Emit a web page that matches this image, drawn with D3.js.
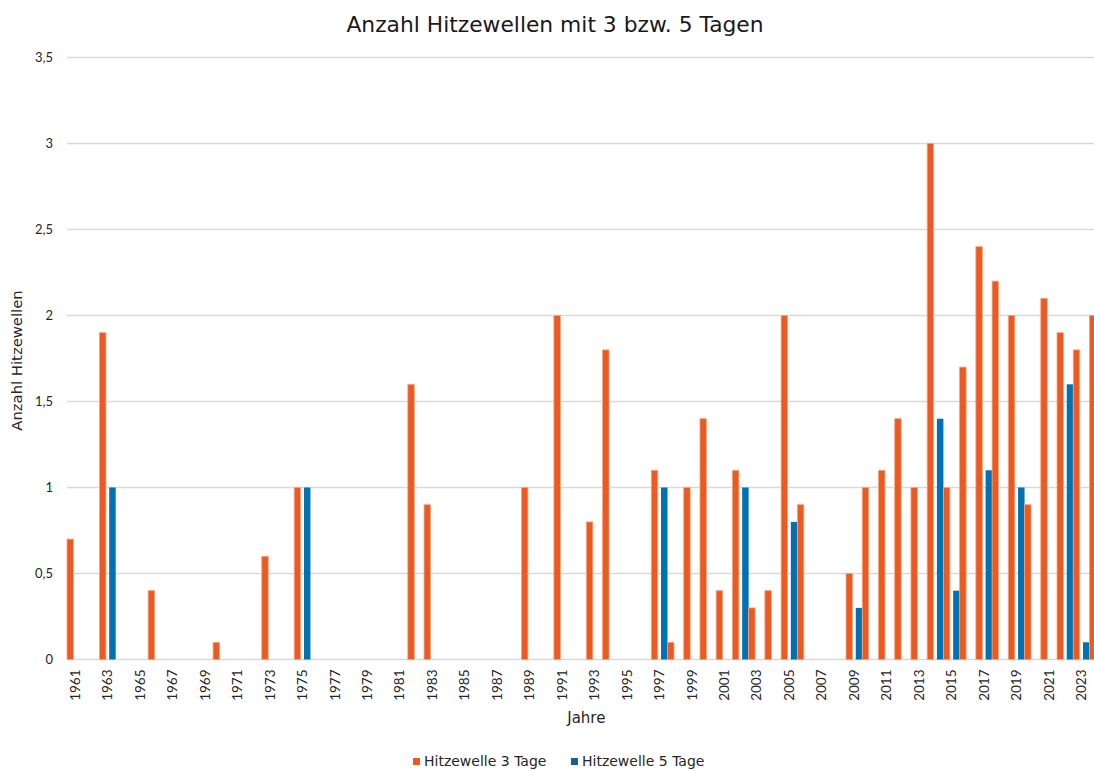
<!DOCTYPE html>
<html>
<head>
<meta charset="utf-8">
<script src="https://cdn.jsdelivr.net/npm/d3@7"></script>
<style>
  html, body { margin: 0; padding: 0; background: #ffffff; overflow: hidden; }
  svg { display: block; font-family: "DejaVu Sans", "Open Sans", sans-serif; }
</style>
</head>
<body>
<svg id="chart" width="1094" height="771"></svg>
<script>
// ---- data ----
const years = d3.range(1961, 2025).map(String);
const heat3 = [
  0.7, 0, 1.9, 0, 0, 0.4, 0, 0, 0, 0.1,   // 1961-1970
  0, 0, 0.6, 0, 1.0, 0, 0, 0, 0, 0,       // 1971-1980
  0, 1.6, 0.9, 0, 0, 0, 0, 0, 1.0, 0,     // 1981-1990
  2.0, 0, 0.8, 1.8, 0, 0, 1.1, 0.1, 1.0, 1.4, // 1991-2000
  0.4, 1.1, 0.3, 0.4, 2.0, 0.9, 0, 0, 0.5, 1.0, // 2001-2010
  1.1, 1.4, 1.0, 3.0, 1.0, 1.7, 2.4, 2.2, 2.0, 0.9, // 2011-2020
  2.1, 1.9, 1.8, 2.0                      // 2021-2024
];
const heat5 = [
  0, 0, 1.0, 0, 0, 0, 0, 0, 0, 0,         // 1961-1970
  0, 0, 0, 0, 1.0, 0, 0, 0, 0, 0,         // 1971-1980
  0, 0, 0, 0, 0, 0, 0, 0, 0, 0,           // 1981-1990
  0, 0, 0, 0, 0, 0, 1.0, 0, 0, 0,         // 1991-2000
  0, 1.0, 0, 0, 0.8, 0, 0, 0, 0.3, 0,     // 2001-2010
  0, 0, 0, 1.4, 0.4, 0, 1.1, 0, 1.0, 0,   // 2011-2020
  0, 1.6, 0.1, 0                          // 2021-2024
];
const yTicks = [0, 0.5, 1, 1.5, 2, 2.5, 3, 3.5];
const seriesNames = ["Hitzewelle 3 Tage", "Hitzewelle 5 Tage"];
const seriesKeys = ["h3", "h5"];
const colors = { h3: "#EB5A22", h5: "#0071B2" };
const legendColors = { h3: "#EB5A22", h5: "#17628C" };

const rows = years.map((y, i) => ({ year: y, h3: heat3[i], h5: heat5[i] }));

// ---- layout ----
const svg = d3.select("#chart");
const plotLeft = 67, plotRight = 1105.7, plotTop = 57.5, plotBottom = 659.5;

const x = d3.scaleBand().domain(years).range([plotLeft, plotRight]).paddingInner(0).paddingOuter(0);
const x1 = d3.scaleBand().domain(seriesKeys).range([0, x.bandwidth()]).paddingInner(1/3).paddingOuter(0);
const y = d3.scaleLinear().domain([0, 3.5]).range([plotBottom, plotTop]);

const fmt = d => String(d).replace(".", ",");

// gridlines
svg.append("g")
  .selectAll("line")
  .data(yTicks)
  .join("line")
  .attr("x1", plotLeft).attr("x2", plotRight)
  .attr("y1", d => y(d)).attr("y2", d => y(d))
  .attr("stroke", "#d9d9d9").attr("stroke-width", 1.3);

// y axis labels
const yAxis = d3.axisLeft(y).tickValues(yTicks).tickFormat(fmt).tickSize(0).tickPadding(0);
const gy = svg.append("g").attr("transform", `translate(${plotLeft - 14},0)`).call(yAxis);
gy.select(".domain").remove();
gy.selectAll("text").attr("font-size", 13).attr("fill", "#262626").attr("font-family", "Lato, sans-serif");

// bars
const groups = svg.append("g")
  .selectAll("g")
  .data(rows)
  .join("g")
  .attr("transform", d => `translate(${x(d.year)},0)`);

groups.selectAll("rect")
  .data(d => seriesKeys.map(k => ({ key: k, value: d[k] })).filter(e => e.value > 0))
  .join("rect")
  .attr("x", d => x1(d.key))
  .attr("width", x1.bandwidth())
  .attr("y", d => y(d.value))
  .attr("height", d => y(0) - y(d.value))
  .attr("fill", d => colors[d.key])
  .attr("stroke", d => d.key === "h3" ? "#F6A580" : "none")
  .attr("stroke-width", 0.8);

// x axis labels (every other year)
const xAxis = d3.axisBottom(x)
  .tickValues(years.filter((d, i) => i % 2 === 0))
  .tickSize(0).tickPadding(0);
const gx = svg.append("g").attr("transform", `translate(0,${plotBottom})`).call(xAxis);
gx.select(".domain").remove();
gx.selectAll("text")
  .attr("font-size", 13.5)
  .attr("fill", "#262626")
  .attr("font-family", "Lato, sans-serif")
  .attr("transform", "rotate(-90)")
  .attr("text-anchor", "end")
  .attr("dy", "0.35em")
  .attr("x", -10)
  .attr("y", 0);

// title
svg.append("text")
  .attr("x", 555).attr("y", 32)
  .attr("text-anchor", "middle")
  .attr("font-size", 21.8)
  .attr("fill", "#1a1a1a")
  .text("Anzahl Hitzewellen mit 3 bzw. 5 Tagen");

// axis titles
svg.append("text")
  .attr("transform", `translate(22,${(plotTop + plotBottom) / 2 + 2}) rotate(-90)`)
  .attr("text-anchor", "middle")
  .attr("font-size", 14.8)
  .attr("fill", "#262626")
  .text("Anzahl Hitzewellen");

svg.append("text")
  .attr("x", (plotLeft + plotRight) / 2).attr("y", 723)
  .attr("text-anchor", "middle")
  .attr("font-size", 15)
  .attr("fill", "#262626")
  .text("Jahre");

// legend
const legendItems = [{ key: "h3", name: seriesNames[0], x: 413 }, { key: "h5", name: seriesNames[1], x: 571 }];
const lg = svg.append("g").selectAll("g").data(legendItems).join("g")
  .attr("transform", d => `translate(${d.x},758)`);
lg.append("rect").attr("width", 7).attr("height", 7).attr("fill", d => legendColors[d.key]);
lg.append("text").attr("x", 11).attr("y", 3.5).attr("dy", "0.35em")
  .attr("font-size", 14).attr("fill", "#262626").text(d => d.name);
</script>
</body>
</html>
